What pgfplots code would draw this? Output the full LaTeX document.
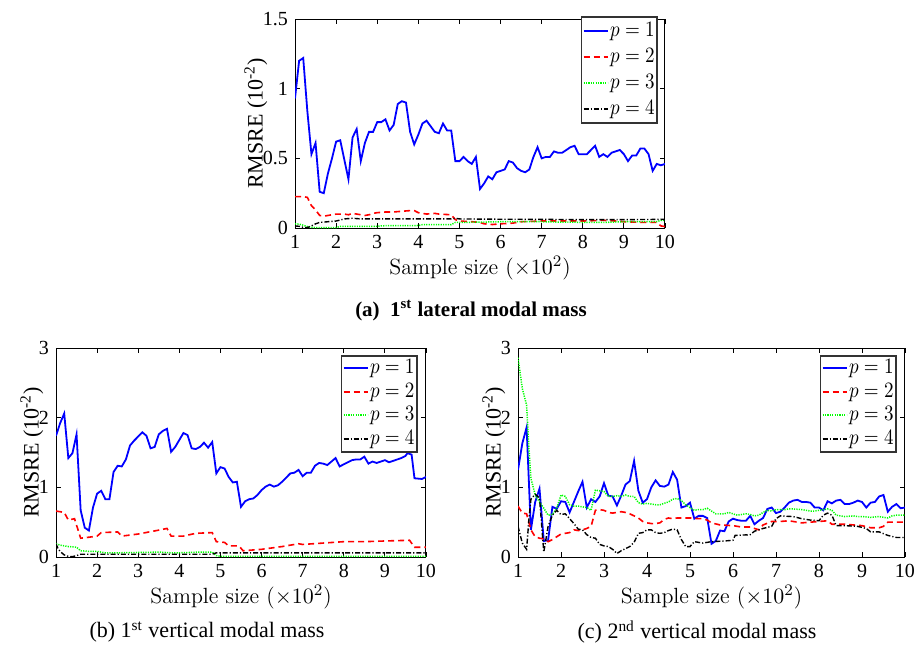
\documentclass[border=0pt]{standalone}
\usepackage{fontspec}
\usepackage{graphicx}
\usepackage{pgfplots}
\pgfplotsset{compat=1.18}
\newfontfamily\tnr{Liberation Serif}
\definecolor{mblue}{rgb}{0,0,1}
\definecolor{mred}{rgb}{1,0,0}
\definecolor{mgreen}{rgb}{0,1,0}
\tikzset{
  s1/.style={color=mblue, line width=0.9pt, solid},
  s2/.style={color=mred, line width=0.8pt, dash pattern=on 3pt off 2pt},
  s3/.style={color=mgreen, line width=0.75pt, dash pattern=on 0.6pt off 0.6pt},
  s4/.style={color=black, line width=0.7pt, dash pattern=on 2.5pt off 1pt on 0.6pt off 1pt},
}
\newcommand{\pe}[1]{\scalebox{0.87}[1]{$p=#1$}}
\pgfplotsset{
  legend image code/.code={\draw[#1, line width=1pt] (0pt,0pt) -- (12pt,0pt);},
  rmsbase/.style={
    scale only axis,
    anchor=north west,
    xmin=1, xmax=10,
    xtick={1,2,3,4,5,6,7,8,9,10},
    tick align=inside,
    major tick length=2.5pt,
    axis line style={line width=0.5pt},
    every tick/.style={line width=0.4pt},
    /pgf/number format/assume math mode=true,
    /pgf/number format/fixed,
    ticklabel style={font=\tnr\fontsize{10}{12}\selectfont},
    xlabel={\fontsize{11}{13}\selectfont Sample size ($\times10^2$)},
    ylabel={\tnr\fontsize{11}{13}\selectfont RMSRE (10\textsuperscript{-2})},
    xlabel style={yshift=3pt},
    ylabel style={yshift=-9pt},
    legend cell align=left,
  },
  legA/.style={legend style={draw=black!80, line width=0.8pt, fill=white, inner sep=0.5pt,
      row sep=0pt, column sep=0pt,
      nodes={inner sep=0.75pt, text height=8.5pt, text depth=3pt},
      font=\fontsize{11}{13}\selectfont}},
  legB/.style={legend style={draw=black!80, line width=0.8pt, fill=white, inner sep=0.5pt,
      row sep=0pt, column sep=0pt,
      nodes={inner sep=0.75pt, text height=7.75pt, text depth=2.5pt},
      font=\fontsize{10.5}{12}\selectfont}},
}
\newcommand{\legs}{%
  \addlegendimage{s1}\addlegendentry{\pe{1}}
  \addlegendimage{s2}\addlegendentry{\pe{2}}
  \addlegendimage{s3}\addlegendentry{\pe{3}}
  \addlegendimage{s4}\addlegendentry{\pe{4}}
}
\begin{document}
\begin{tikzpicture}
\path[use as bounding box] (0,0) rectangle (458.5pt,-326.5pt);
% ---------------- (a) ----------------
\begin{axis}[rmsbase, legA, at={(147.5pt,-9.5pt)}, width=185pt, height=104.5pt,
  ymin=0, ymax=1.5, ytick={0,0.5,1,1.5},
  legend style={at={(rel axis cs:0.981,1.014)}, anchor=north east}]
\legs
\addplot[s1, forget plot] coordinates {(1.0,0.93)(1.1,1.20)(1.2,1.22)(1.3,0.84)(1.4,0.53)(1.5,0.61)(1.6,0.26)(1.7,0.25)(1.8,0.39)(1.9,0.50)(2.0,0.62)(2.1,0.63)(2.2,0.49)(2.3,0.35)(2.4,0.65)(2.5,0.71)(2.6,0.48)(2.7,0.61)(2.8,0.69)(2.9,0.69)(3.0,0.76)(3.1,0.76)(3.2,0.78)(3.3,0.70)(3.4,0.74)(3.5,0.89)(3.6,0.91)(3.7,0.90)(3.8,0.69)(3.9,0.60)(4.0,0.67)(4.1,0.75)(4.2,0.77)(4.3,0.73)(4.4,0.69)(4.5,0.68)(4.6,0.75)(4.7,0.70)(4.8,0.70)(4.9,0.48)(5.0,0.48)(5.1,0.51)(5.2,0.48)(5.3,0.46)(5.4,0.51)(5.5,0.28)(5.6,0.32)(5.7,0.37)(5.8,0.35)(5.9,0.40)(6.0,0.41)(6.1,0.42)(6.2,0.48)(6.3,0.47)(6.4,0.43)(6.5,0.41)(6.6,0.40)(6.7,0.42)(6.8,0.51)(6.9,0.58)(7.0,0.50)(7.1,0.51)(7.2,0.51)(7.3,0.55)(7.4,0.54)(7.5,0.54)(7.6,0.56)(7.7,0.58)(7.8,0.59)(7.9,0.53)(8.0,0.53)(8.1,0.53)(8.2,0.56)(8.3,0.59)(8.4,0.51)(8.5,0.53)(8.6,0.51)(8.7,0.54)(8.8,0.55)(8.9,0.56)(9.0,0.53)(9.1,0.48)(9.2,0.52)(9.3,0.52)(9.4,0.57)(9.5,0.57)(9.6,0.53)(9.7,0.41)(9.8,0.46)(9.9,0.45)(10.0,0.46)};
\addplot[s2, forget plot] coordinates {(1.0,0.225)(1.1,0.225)(1.2,0.225)(1.3,0.22)(1.4,0.16)(1.5,0.13)(1.6,0.09)(1.7,0.085)(1.8,0.09)(1.9,0.095)(2.0,0.10)(2.2,0.10)(2.3,0.095)(2.4,0.105)(2.5,0.10)(2.6,0.095)(2.7,0.09)(2.8,0.095)(2.9,0.105)(3.0,0.11)(3.2,0.115)(3.4,0.115)(3.6,0.12)(3.8,0.125)(3.9,0.125)(4.0,0.11)(4.2,0.10)(4.4,0.105)(4.5,0.10)(4.8,0.095)(4.9,0.06)(5.0,0.05)(5.3,0.045)(5.5,0.04)(5.6,0.03)(5.8,0.025)(6.0,0.03)(6.3,0.035)(6.5,0.045)(7.0,0.05)(7.5,0.05)(8.0,0.05)(8.5,0.055)(8.8,0.05)(9.0,0.045)(9.5,0.04)(9.8,0.04)(9.9,0.015)(10.0,0.01)};
\addplot[s3, forget plot] coordinates {(1.0,0.03)(1.1,0.028)(1.2,0.02)(1.3,0.01)(1.4,0.005)(1.5,0.003)(2.0,0.003)(2.1,0.012)(3.0,0.012)(3.1,0.016)(4.0,0.018)(4.1,0.024)(4.8,0.024)(4.9,0.04)(5.5,0.042)(6.0,0.045)(7.0,0.045)(7.5,0.042)(8.5,0.04)(9.0,0.045)(9.8,0.045)(9.9,0.055)(10.0,0.055)};
\addplot[s4, forget plot] coordinates {(1.0,0.015)(1.1,0.012)(1.2,0.005)(1.3,0.003)(1.4,0.015)(1.5,0.03)(1.6,0.04)(1.8,0.045)(2.0,0.05)(2.2,0.065)(2.4,0.07)(2.6,0.065)(3.0,0.065)(4.0,0.065)(4.8,0.065)(4.9,0.07)(5.0,0.065)(6.0,0.063)(7.0,0.062)(8.0,0.06)(9.0,0.06)(10.0,0.062)};
\end{axis}
% ---------------- (b) ----------------
\begin{axis}[rmsbase, legB, at={(28pt,-174pt)}, width=185pt, height=104.5pt,
  ymin=0, ymax=3, ytick={0,1,2,3},
  legend style={at={(rel axis cs:0.978,0.967)}, anchor=north east}]
\legs
\addplot[s1, forget plot] coordinates {(1.0,1.74)(1.1,1.92)(1.2,2.06)(1.3,1.42)(1.4,1.49)(1.5,1.76)(1.6,0.67)(1.7,0.42)(1.8,0.38)(1.9,0.71)(2.0,0.91)(2.1,0.95)(2.2,0.83)(2.3,0.83)(2.4,1.22)(2.5,1.31)(2.6,1.30)(2.7,1.40)(2.8,1.60)(2.9,1.67)(3.0,1.73)(3.1,1.79)(3.2,1.74)(3.3,1.56)(3.4,1.58)(3.5,1.76)(3.6,1.81)(3.7,1.84)(3.8,1.51)(3.9,1.58)(4.0,1.68)(4.1,1.78)(4.2,1.75)(4.3,1.56)(4.4,1.55)(4.5,1.58)(4.6,1.64)(4.7,1.57)(4.8,1.65)(4.9,1.20)(5.0,1.29)(5.1,1.27)(5.2,1.15)(5.3,1.07)(5.4,1.08)(5.5,0.72)(5.6,0.80)(5.7,0.83)(5.8,0.84)(5.9,0.89)(6.0,0.96)(6.1,1.01)(6.2,1.04)(6.3,1.01)(6.4,1.03)(6.5,1.08)(6.6,1.14)(6.7,1.20)(6.8,1.21)(6.9,1.25)(7.0,1.16)(7.1,1.21)(7.2,1.21)(7.3,1.31)(7.4,1.35)(7.5,1.34)(7.6,1.32)(7.7,1.37)(7.8,1.42)(7.9,1.30)(8.0,1.33)(8.1,1.36)(8.2,1.39)(8.3,1.40)(8.4,1.40)(8.5,1.44)(8.6,1.34)(8.7,1.37)(8.8,1.35)(8.9,1.37)(9.0,1.39)(9.1,1.36)(9.2,1.38)(9.3,1.40)(9.4,1.42)(9.5,1.45)(9.55,1.49)(9.65,1.47)(9.72,1.13)(9.9,1.12)(10.0,1.15)};
\addplot[s2, forget plot] coordinates {(1.0,0.66)(1.2,0.64)(1.3,0.53)(1.45,0.55)(1.6,0.27)(1.75,0.28)(2.0,0.30)(2.1,0.35)(2.5,0.36)(2.6,0.30)(3.0,0.33)(3.45,0.38)(3.7,0.41)(3.8,0.30)(4.1,0.30)(4.4,0.34)(4.8,0.35)(4.9,0.22)(5.1,0.21)(5.2,0.16)(5.45,0.16)(5.55,0.09)(6.0,0.11)(6.5,0.15)(6.9,0.19)(7.0,0.18)(7.5,0.20)(8.0,0.22)(8.5,0.22)(9.0,0.23)(9.6,0.24)(9.72,0.14)(10.0,0.14)};
\addplot[s3, forget plot] coordinates {(1.0,0.19)(1.1,0.17)(1.2,0.16)(1.3,0.15)(1.5,0.14)(1.6,0.09)(1.8,0.08)(2.0,0.08)(2.2,0.06)(2.5,0.06)(3.0,0.065)(3.5,0.07)(3.8,0.06)(4.0,0.06)(4.5,0.07)(4.8,0.07)(4.9,0.02)(5.0,0.01)(6.0,0.01)(7.0,0.01)(8.0,0.01)(9.0,0.01)(10.0,0.01)};
\addplot[s4, forget plot] coordinates {(1.0,0.19)(1.05,0.12)(1.1,0.08)(1.2,0.03)(1.3,0.01)(1.4,0.005)(1.5,0.02)(1.6,0.04)(2.0,0.04)(3.0,0.04)(4.0,0.04)(4.8,0.04)(4.9,0.06)(6.0,0.06)(8.0,0.06)(10.0,0.06)};
\end{axis}
% ---------------- (c) ----------------
\begin{axis}[rmsbase, legB, at={(259pt,-174pt)}, width=193.5pt, height=104.5pt,
  ymin=0, ymax=3, ytick={0,1,2,3},
  legend style={at={(rel axis cs:0.979,0.967)}, anchor=north east}]
\legs
\addplot[s1, forget plot] coordinates {(1.0,1.25)(1.1,1.63)(1.2,1.86)(1.3,0.39)(1.4,0.79)(1.5,0.98)(1.6,0.23)(1.7,0.24)(1.8,0.72)(1.9,0.69)(2.0,0.80)(2.1,0.79)(2.2,0.64)(2.3,0.79)(2.4,0.94)(2.5,1.08)(2.6,0.71)(2.7,0.83)(2.8,0.79)(2.9,0.87)(3.0,1.06)(3.1,0.88)(3.2,0.87)(3.3,0.74)(3.4,0.88)(3.5,1.04)(3.6,1.09)(3.7,1.38)(3.8,0.95)(3.9,0.78)(4.0,0.83)(4.1,1.00)(4.2,1.10)(4.3,1.02)(4.4,1.01)(4.5,1.04)(4.6,1.22)(4.7,1.11)(4.8,0.71)(4.9,0.73)(5.0,0.78)(5.1,0.55)(5.2,0.59)(5.3,0.59)(5.4,0.56)(5.5,0.19)(5.6,0.23)(5.7,0.38)(5.8,0.37)(5.9,0.51)(6.0,0.55)(6.1,0.53)(6.2,0.52)(6.3,0.52)(6.4,0.59)(6.5,0.47)(6.6,0.52)(6.7,0.56)(6.8,0.69)(6.9,0.71)(7.0,0.63)(7.1,0.65)(7.2,0.71)(7.3,0.78)(7.4,0.81)(7.5,0.82)(7.6,0.79)(7.7,0.79)(7.8,0.78)(7.9,0.71)(8.0,0.71)(8.1,0.67)(8.2,0.80)(8.3,0.77)(8.4,0.81)(8.5,0.82)(8.6,0.76)(8.7,0.76)(8.8,0.78)(8.9,0.81)(9.0,0.79)(9.1,0.71)(9.2,0.78)(9.3,0.79)(9.4,0.87)(9.5,0.89)(9.6,0.65)(9.7,0.72)(9.8,0.76)(9.9,0.70)(10.0,0.71)};
\addplot[s2, forget plot] coordinates {(1.0,0.73)(1.1,0.63)(1.2,0.62)(1.3,0.39)(1.4,0.29)(1.5,0.27)(1.6,0.26)(1.7,0.22)(1.8,0.25)(1.9,0.29)(2.0,0.33)(2.1,0.34)(2.2,0.35)(2.3,0.39)(2.4,0.38)(2.5,0.39)(2.6,0.41)(2.7,0.44)(2.8,0.67)(2.9,0.68)(3.0,0.67)(3.1,0.64)(3.2,0.63)(3.3,0.64)(3.4,0.65)(3.5,0.64)(3.6,0.62)(3.7,0.59)(3.8,0.56)(3.9,0.51)(4.0,0.49)(4.1,0.48)(4.2,0.48)(4.3,0.49)(4.4,0.54)(4.5,0.56)(4.6,0.55)(4.7,0.56)(4.8,0.56)(5.0,0.56)(5.2,0.55)(5.3,0.55)(5.4,0.53)(5.5,0.49)(5.7,0.46)(6.0,0.45)(6.2,0.43)(6.4,0.43)(6.6,0.39)(6.7,0.46)(6.9,0.51)(7.1,0.51)(7.3,0.52)(7.6,0.49)(8.0,0.51)(8.2,0.52)(8.3,0.47)(8.6,0.47)(9.0,0.45)(9.2,0.42)(9.4,0.42)(9.5,0.44)(9.6,0.50)(10.0,0.50)};
\addplot[s3, forget plot] coordinates {(1.0,2.86)(1.1,2.42)(1.2,2.18)(1.25,1.6)(1.3,1.13)(1.4,0.89)(1.5,0.79)(1.6,0.70)(1.7,0.60)(1.8,0.61)(1.9,0.70)(2.0,0.89)(2.1,0.87)(2.2,0.75)(2.3,0.73)(2.4,0.73)(2.5,0.72)(2.6,0.71)(2.7,0.67)(2.8,0.96)(2.9,0.95)(3.0,0.94)(3.1,0.87)(3.2,0.87)(3.3,0.88)(3.4,0.87)(3.5,0.89)(3.6,0.87)(3.7,0.87)(3.8,0.78)(3.9,0.76)(4.0,0.77)(4.1,0.76)(4.2,0.75)(4.3,0.75)(4.4,0.77)(4.5,0.79)(4.6,0.83)(4.7,0.84)(4.8,0.81)(4.9,0.75)(5.0,0.71)(5.1,0.67)(5.2,0.68)(5.3,0.68)(5.4,0.70)(5.5,0.66)(5.6,0.62)(5.7,0.62)(5.8,0.62)(5.9,0.64)(6.0,0.62)(6.1,0.60)(6.2,0.61)(6.3,0.62)(6.4,0.61)(6.5,0.59)(6.6,0.60)(6.7,0.64)(6.8,0.67)(6.9,0.66)(7.0,0.68)(7.2,0.68)(7.3,0.69)(7.4,0.69)(7.6,0.68)(7.7,0.67)(7.8,0.66)(7.9,0.66)(8.0,0.67)(8.1,0.68)(8.2,0.69)(8.3,0.67)(8.4,0.60)(8.5,0.59)(8.6,0.58)(8.8,0.59)(8.9,0.58)(9.0,0.58)(9.2,0.57)(9.4,0.58)(9.5,0.57)(9.6,0.56)(9.7,0.59)(9.8,0.60)(10.0,0.60)};
\addplot[s4, forget plot] coordinates {(1.0,0.44)(1.1,0.20)(1.2,0.11)(1.25,0.51)(1.3,0.83)(1.4,0.90)(1.5,0.85)(1.6,0.07)(1.7,0.44)(1.8,0.60)(1.9,0.67)(2.0,0.61)(2.1,0.62)(2.2,0.55)(2.3,0.48)(2.4,0.40)(2.5,0.39)(2.6,0.32)(2.7,0.28)(2.8,0.27)(2.9,0.18)(3.0,0.16)(3.1,0.15)(3.2,0.11)(3.3,0.05)(3.4,0.09)(3.5,0.12)(3.6,0.15)(3.7,0.21)(3.8,0.34)(3.9,0.35)(4.0,0.39)(4.1,0.39)(4.2,0.35)(4.3,0.34)(4.4,0.35)(4.5,0.38)(4.6,0.40)(4.7,0.39)(4.8,0.25)(4.9,0.15)(5.0,0.15)(5.1,0.22)(5.2,0.21)(5.3,0.20)(5.4,0.21)(5.5,0.22)(5.8,0.23)(6.0,0.24)(6.05,0.31)(6.4,0.32)(6.5,0.37)(6.7,0.41)(6.9,0.44)(7.0,0.55)(7.1,0.59)(7.4,0.58)(7.6,0.55)(7.8,0.53)(8.0,0.52)(8.1,0.60)(8.2,0.63)(8.3,0.60)(8.4,0.45)(8.6,0.45)(8.9,0.44)(9.1,0.41)(9.2,0.36)(9.4,0.36)(9.6,0.31)(9.8,0.28)(10.0,0.28)};
\end{axis}
% ---------------- captions ----------------
\node[font=\tnr\bfseries\fontsize{10.5}{12}\selectfont] at (235.5pt,-155.5pt) {(a)\ \ 1\textsuperscript{st} lateral modal mass};
\node[font=\tnr\fontsize{11}{13}\selectfont] at (103.5pt,-316pt) {(b) 1\textsuperscript{st} vertical modal mass};
\node[font=\tnr\fontsize{11}{13}\selectfont] at (348.5pt,-316pt) {(c) 2\textsuperscript{nd} vertical modal mass};
\end{tikzpicture}
\end{document}
